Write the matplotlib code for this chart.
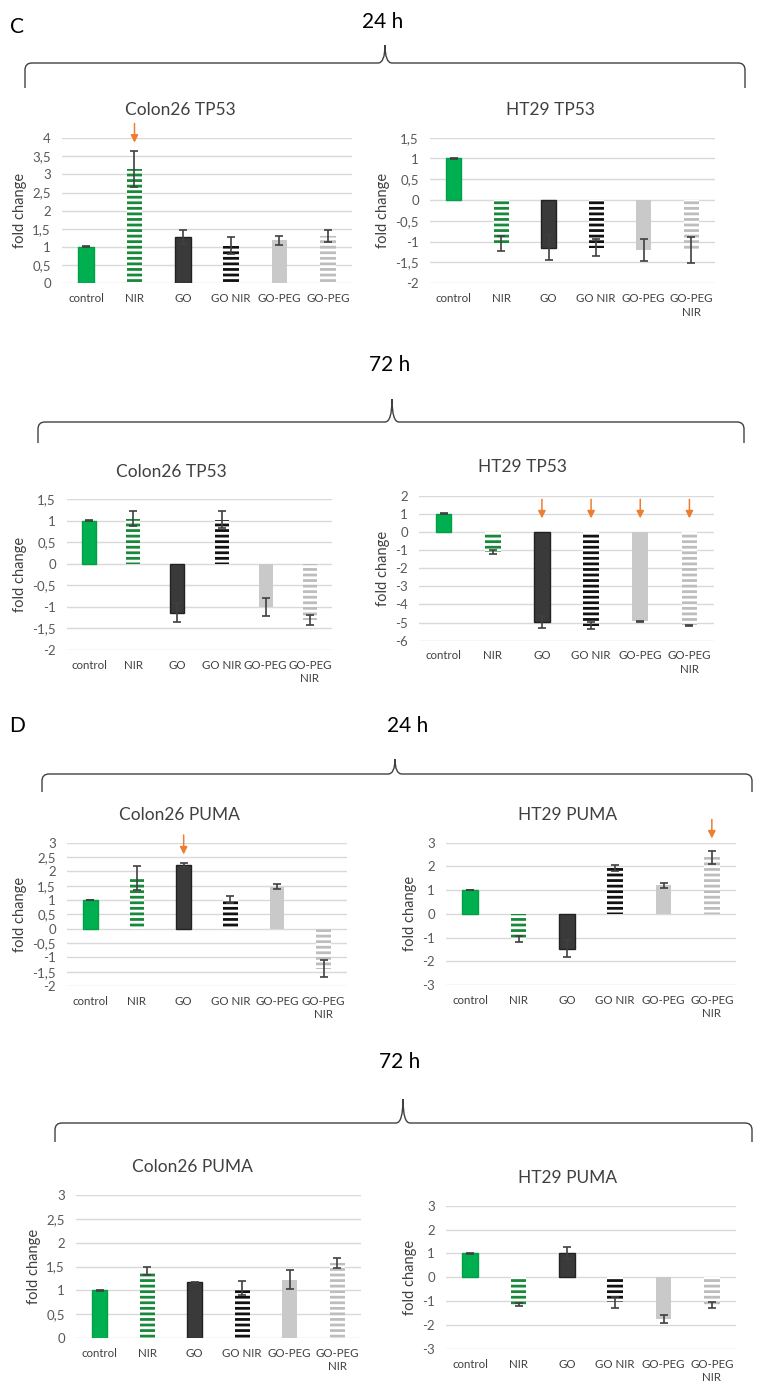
import numpy as np
import matplotlib
matplotlib.use("Agg")
import matplotlib.pyplot as plt
from matplotlib.path import Path
from matplotlib.patches import PathPatch

plt.rcParams['font.family'] = ['Lato', 'DejaVu Sans']
plt.rcParams['hatch.linewidth'] = 2.0

W, H = 763, 1393

groups = ["control", "NIR", "GO", "GO NIR", "GO-PEG", "GO-PEG\nNIR"]

# values (fold change, mean and error)
c26_tp53_24 = [1.0, 3.15, 1.27, 1.03, 1.18, 1.30]
c26_tp53_24_err = [0.01, 0.50, 0.20, 0.23, 0.13, 0.17]
ht29_tp53_24 = [1.0, -1.05, -1.15, -1.14, -1.20, -1.20]
ht29_tp53_24_err = [0.01, 0.18, 0.30, 0.20, 0.27, 0.32]

c26_tp53_72 = [1.0, 1.05, -1.13, 1.03, -1.0, -1.30]
c26_tp53_72_err = [0.01, 0.18, 0.23, 0.19, 0.20, 0.12]
ht29_tp53_72 = [1.0, -1.10, -4.95, -5.17, -4.93, -5.15]
ht29_tp53_72_err = [0.02, 0.12, 0.33, 0.20, 0.03, 0.04]

c26_puma_24 = [1.0, 1.77, 2.22, 1.02, 1.47, -1.40]
c26_puma_24_err = [0.01, 0.43, 0.08, 0.12, 0.08, 0.30]
ht29_puma_24 = [1.0, -1.05, -1.47, 1.93, 1.20, 2.38]
ht29_puma_24_err = [0.01, 0.13, 0.35, 0.14, 0.12, 0.26]

c26_puma_72 = [1.0, 1.40, 1.17, 1.05, 1.22, 1.57]
c26_puma_72_err = [0.01, 0.08, 0.01, 0.15, 0.20, 0.10]
ht29_puma_72 = [1.0, -1.15, 1.02, -1.05, -1.75, -1.15]
ht29_puma_72_err = [0.01, 0.06, 0.27, 0.22, 0.17, 0.13]

bar_styles = [
    dict(color="#00B050", edgecolor="#00A046", linewidth=1.0),
    dict(color="white", edgecolor="#18893A", hatch="---", linewidth=0),
    dict(color="#3A3A3A", edgecolor="#222222", linewidth=1.0),
    dict(color="white", edgecolor="#111111", hatch="---", linewidth=0),
    dict(color="#C9C9C9", edgecolor="#C9C9C9", linewidth=0),
    dict(color="white", edgecolor="#BDBDBD", hatch="---", linewidth=0),
]

fig = plt.figure(figsize=(W / 100, H / 100), dpi=100)


def box(x0, y0, x1, y1):
    return [x0 / W, 1 - y1 / H, (x1 - x0) / W, (y1 - y0) / H]


def fx(x, y):
    return (x / W, 1 - y / H)


def panel(rect, vals, errs, ylo, yhi, step, title, tpos, arrows=(), arrow_y=None, labels=groups):
    ax = fig.add_axes(box(*rect))
    x = np.arange(len(vals))
    for i in range(len(vals)):
        ax.bar(x[i], vals[i], width=0.32, zorder=2, **bar_styles[i])
    ax.errorbar(x, vals, yerr=errs, fmt='none', ecolor='#404040',
                elinewidth=1.2, capsize=3, capthick=1.2, zorder=3)
    ax.set_xlim(-0.5, len(vals) - 0.5)
    ax.set_ylim(ylo, yhi)
    ticks = np.arange(ylo, yhi + step / 2, step)
    ax.set_yticks(ticks)
    ax.set_yticklabels([f"{t:g}".replace('.', ',') for t in ticks])
    ax.set_xticks(x)
    ax.set_xticklabels(labels, fontsize=8.3, color='#404040', linespacing=1.3)
    ax.tick_params(axis='y', length=0, pad=8, labelsize=9.5, labelcolor='#595959')
    ax.tick_params(axis='x', length=0, pad=7)
    ax.yaxis.grid(True, color='#D9D9D9', lw=1)
    ax.set_axisbelow(True)
    for s in ax.spines.values():
        s.set_visible(False)
    ax.set_ylabel("fold change", fontsize=10.5, color='#404040', labelpad=4)
    for a in arrows:
        ax.annotate('', xy=(a, arrow_y[1]), xytext=(a, arrow_y[0]),
                    arrowprops=dict(arrowstyle='-|>', color='#ED7D31', lw=1.1,
                                    mutation_scale=11, shrinkA=0, shrinkB=0),
                    annotation_clip=False, zorder=4)
    fig.text(*fx(*tpos), title, ha='center', va='center', fontsize=12.5, color='#404040')
    return ax


def brace(x0, x1, xc, yt, yb, tip):
    r = 7
    verts = [(x0, yb), (x0, yt + r), (x0, yt), (x0 + r, yt),
             (xc - r, yt), (xc, yt), (xc, tip), (xc, yt), (xc + r, yt),
             (x1 - r, yt), (x1, yt), (x1, yt + r), (x1, yb)]
    codes = [Path.MOVETO, Path.LINETO, Path.CURVE3, Path.CURVE3,
             Path.LINETO, Path.CURVE3, Path.CURVE3, Path.CURVE3, Path.CURVE3,
             Path.LINETO, Path.CURVE3, Path.CURVE3, Path.LINETO]
    p = Path([fx(*v) for v in verts], codes)
    fig.add_artist(PathPatch(p, transform=fig.transFigure, fill=False,
                             edgecolor='#404040', lw=1.0))


# section headers
fig.text(*fx(17, 27), "C", ha='center', va='center', fontsize=15)
fig.text(*fx(383, 22), "24 h", ha='center', va='center', fontsize=15)
brace(25, 745, 385, 63, 88, 45)
fig.text(*fx(390, 365), "72 h", ha='center', va='center', fontsize=15)
brace(38, 744, 392, 422, 443, 399)
fig.text(*fx(17, 726), "D", ha='center', va='center', fontsize=15)
fig.text(*fx(408, 726), "24 h", ha='center', va='center', fontsize=15)
brace(42, 752, 395, 774, 792, 759)
fig.text(*fx(400, 1062), "72 h", ha='center', va='center', fontsize=15)
brace(55, 752, 403, 1123, 1142, 1099)

panel((62, 138.3, 352, 283), c26_tp53_24, c26_tp53_24_err, 0, 4, 0.5,
      "Colon26 TP53", (180, 110), arrows=[1], arrow_y=(4.41, 3.88),
      labels=groups[:5] + ["GO-PEG"])
panel((430, 137.7, 715, 283.3), ht29_tp53_24, ht29_tp53_24_err, -2, 1.5, 0.5,
      "HT29 TP53", (551, 110))
panel((67, 499.3, 332, 650), c26_tp53_72, c26_tp53_72_err, -2, 1.5, 0.5,
      "Colon26 TP53", (171, 472))
panel((419, 495.7, 714, 640.7), ht29_tp53_72, ht29_tp53_72_err, -6, 2, 1,
      "HT29 TP53", (523, 467), arrows=[2, 3, 4, 5], arrow_y=(1.8, 0.75))
panel((67, 842.7, 347, 986), c26_puma_24, c26_puma_24_err, -2, 3, 0.5,
      "Colon26 PUMA", (179, 815), arrows=[2], arrow_y=(3.27, 2.59))
panel((446, 842.7, 736, 985), ht29_puma_24, ht29_puma_24_err, -3, 3, 1,
      "HT29 PUMA", (568, 815), arrows=[5], arrow_y=(3.98, 3.18))
panel((76, 1195, 361, 1338), c26_puma_72, c26_puma_72_err, 0, 3, 0.5,
      "Colon26 PUMA", (192, 1167))
panel((446, 1205.7, 736, 1349), ht29_puma_72, ht29_puma_72_err, -3, 3, 1,
      "HT29 PUMA", (568, 1178))

fig.savefig("out.png", dpi=100)
